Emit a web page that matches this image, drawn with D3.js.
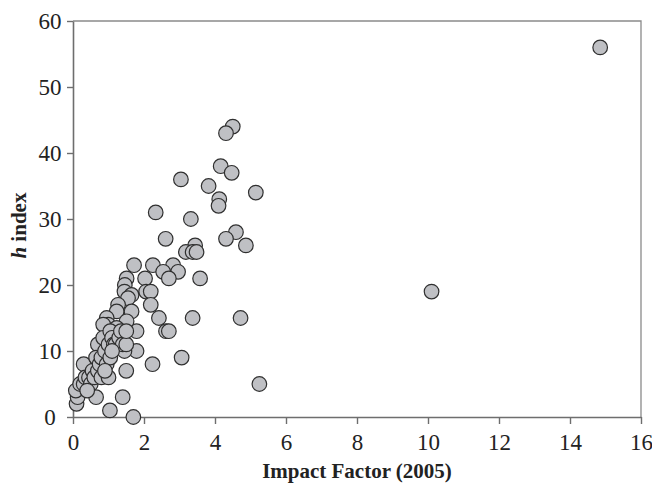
<!DOCTYPE html>
<html>
<head>
<meta charset="utf-8">
<script src="https://cdn.jsdelivr.net/npm/d3@7"></script>
<style>
  body { margin: 0; background: #fff; }
  svg text { font-family: "Liberation Serif", "Times New Roman", serif !important; }
</style>
</head>
<body>
<div id="chart"></div>
<script>
// values
var impactFactor = [
  14.85, 10.1, 5.25, 5.15, 4.5, 4.31, 4.16, 4.47, 3.04, 3.82, 4.12, 4.1, 2.33, 3.32,
  4.59, 2.61, 4.31, 4.87, 3.44, 3.18, 3.37, 3.48, 1.72, 2.25, 2.82, 2.54, 2.96, 2.7,
  3.58, 2.03, 2.06, 2.19, 2.19, 2.42, 3.37, 4.72, 2.62, 2.7, 1.79, 1.79, 3.06, 2.24,
  1.51, 1.46, 1.45, 1.65, 1.55, 1.27, 1.23, 1.65, 0.95, 1.51, 0.99, 0.85, 1.23,
  1.45, 1.5, 1.4, 1.04, 1.7, 0.65, 0.7, 0.3,
  0.1, 0.13, 0.08, 0.2, 0.3, 0.35, 0.45, 0.5, 0.4, 0.55, 0.6, 0.7, 0.65, 0.75, 0.8,
  0.8, 0.85, 0.9, 0.95, 1.0, 1.0, 1.05, 1.05, 1.1, 1.15, 1.2, 1.3, 1.35, 1.4, 1.5, 1.5, 0.9, 1.1
];
var hIndex = [
  56, 19, 5, 34, 44, 43, 38, 37, 36, 35, 33, 32, 31, 30,
  28, 27, 27, 26, 26, 25, 25, 25, 23, 23, 23, 22, 22, 21,
  21, 21, 19, 19, 17, 15, 15, 15, 13, 13, 13, 10, 9, 8,
  21, 20, 19, 18.5, 18, 17, 16, 16, 15, 14.5, 14, 14, 13.5,
  10, 7, 3, 1, 0, 3, 11, 8,
  2, 3, 4, 5, 5, 6, 6, 5, 4, 7, 6, 7, 9, 8, 6,
  9, 12, 10, 8, 6, 11, 13, 9, 12, 11, 11, 12, 13, 11, 11, 13, 7, 10
];
var xTicks = [0, 2, 4, 6, 8, 10, 12, 14, 16];
var yTicks = [0, 10, 20, 30, 40, 50, 60];

var points = impactFactor.map(function(v, i) { return {x: v, y: hIndex[i]}; });

var width = 652, height = 486;
var serif = "'Liberation Serif', 'Times New Roman', serif";
var svg = d3.select("#chart").append("svg")
  .attr("width", width).attr("height", height);

var xScale = d3.scaleLinear().domain([0, 16]).range([73, 641]);
var yScale = d3.scaleLinear().domain([0, 60]).range([417, 21]);

// frame top and right
svg.append("path")
  .attr("d", "M" + xScale(0) + "," + yScale(60) + "H" + xScale(16) + "V" + yScale(0))
  .attr("fill", "none").attr("stroke", "#8a8a8a").attr("stroke-width", 1.3);

var xAxis = svg.append("g")
  .attr("transform", "translate(0," + yScale(0) + ")")
  .call(d3.axisBottom(xScale).tickValues(xTicks).tickSize(7).tickPadding(10).tickSizeOuter(0));
var yAxis = svg.append("g")
  .attr("transform", "translate(" + xScale(0) + ",0)")
  .call(d3.axisLeft(yScale).tickValues(yTicks).tickSize(6).tickPadding(7).tickSizeOuter(0));

[xAxis, yAxis].forEach(function(a) {
  a.attr("font-family", serif).attr("font-size", 23);
  a.select(".domain").attr("stroke", "#6e6e6e").attr("stroke-width", 1.6);
  a.selectAll(".tick line").attr("stroke", "#6e6e6e").attr("stroke-width", 1.4);
  a.selectAll(".tick text").attr("fill", "#222");
});
// y labels are centred in the margin
yAxis.selectAll(".tick text").attr("text-anchor", "middle").attr("x", -23);

// points
svg.append("g")
  .selectAll("circle")
  .data(points)
  .enter()
  .append("circle")
    .attr("cx", function(d) { return xScale(d.x); })
    .attr("cy", function(d) { return yScale(d.y); })
    .attr("r", 7.3)
    .attr("fill", "#bfc0c4")
    .attr("stroke", "#2f2f2f")
    .attr("stroke-width", 1.2);

// axis titles
svg.append("text")
  .attr("x", (xScale(0) + xScale(16)) / 2)
  .attr("y", 478)
  .attr("text-anchor", "middle")
  .attr("font-family", serif)
  .attr("font-size", 21)
  .attr("font-weight", "bold")
  .attr("fill", "#222")
  .text("Impact Factor (2005)");

var yTitle = svg.append("text")
  .attr("transform", "translate(26," + yScale(29) + ") rotate(-90)")
  .attr("text-anchor", "middle")
  .attr("font-family", serif)
  .attr("font-size", 21)
  .attr("font-weight", "bold")
  .attr("fill", "#222");
yTitle.append("tspan").attr("font-style", "italic").text("h");
yTitle.append("tspan").text(" index");
</script>
</body>
</html>
